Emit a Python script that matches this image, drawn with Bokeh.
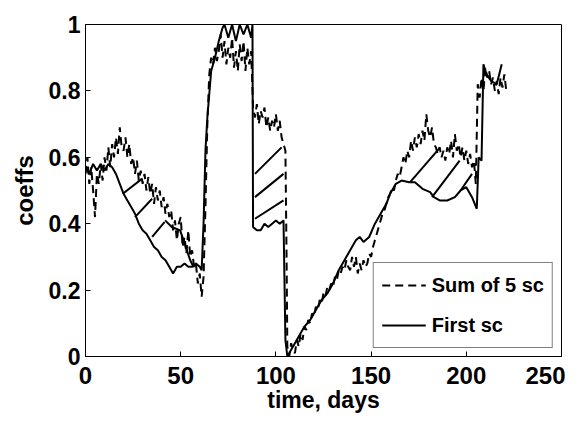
from bokeh.plotting import figure
from bokeh.models import Range1d, Legend, LegendItem, FixedTicker
from bokeh.embed import file_html
from bokeh.resources import INLINE

# ---------------- data ----------------
sum5_x = list(range(0, 105)) + [105, 105.6, 106, 107, 108] + list(range(109, 222))
sum5_y = [
    0.55, 0.60, 0.52, 0.57, 0.50, 0.42, 0.55, 0.52, 0.58, 0.53,
    0.60, 0.56, 0.63, 0.57, 0.64, 0.60, 0.66, 0.61, 0.69, 0.63,
    0.62, 0.66, 0.60, 0.64, 0.58, 0.60, 0.55, 0.59, 0.53, 0.56,
    0.52, 0.55, 0.50, 0.54, 0.49, 0.52, 0.46, 0.51, 0.47, 0.50,
    0.45, 0.48, 0.43, 0.46, 0.42, 0.44, 0.38, 0.41, 0.35, 0.40,
    0.42, 0.33, 0.36, 0.31, 0.38, 0.30, 0.32, 0.27, 0.28, 0.22,
    0.25, 0.18, 0.24, 0.45, 0.70, 0.85, 0.90, 0.88, 0.93, 0.89,
    0.92, 0.97, 0.90, 0.95, 0.88, 0.93, 0.90, 0.96, 0.87, 0.92,
    0.86, 0.94, 0.89, 0.95, 0.86, 0.93, 0.88, 0.92, 0.75, 0.72,
    0.76, 0.70, 0.74, 0.72, 0.75, 0.69, 0.72, 0.68, 0.71, 0.69,
    0.73, 0.68, 0.71, 0.66, 0.64,
    0.62, 0.30, 0.03, 0.00, 0.04,
    0.02, 0.01, 0.05, 0.03, 0.07, 0.05, 0.09, 0.08, 0.11, 0.10,
    0.13, 0.12, 0.15, 0.14, 0.17, 0.16, 0.19, 0.18, 0.21, 0.20,
    0.22, 0.21, 0.24, 0.23, 0.26, 0.25, 0.27, 0.26, 0.29, 0.27,
    0.26, 0.30, 0.27, 0.30, 0.25, 0.28, 0.26, 0.29, 0.27, 0.28,
    0.31, 0.30, 0.33, 0.35, 0.37, 0.39, 0.41, 0.43, 0.44, 0.46,
    0.48, 0.49, 0.51, 0.50, 0.53, 0.55, 0.54, 0.57, 0.60, 0.58,
    0.62, 0.60, 0.65, 0.62, 0.66, 0.63, 0.67, 0.64, 0.68, 0.65,
    0.73, 0.68, 0.66, 0.69, 0.64, 0.63, 0.61, 0.63, 0.60, 0.62,
    0.59, 0.63, 0.61, 0.65, 0.60, 0.67, 0.62, 0.64, 0.60, 0.63,
    0.59, 0.62, 0.58, 0.61, 0.57, 0.59, 0.52, 0.82, 0.78, 0.84,
    0.80, 0.87, 0.84, 0.86, 0.82, 0.84, 0.80, 0.83, 0.79, 0.84,
    0.81, 0.85, 0.80,
]

first_x = [0, 2, 4, 6, 8, 10, 12, 14, 16, 18, 20, 22, 24, 26, 28, 30, 32, 34, 36,
           38, 40, 42, 44, 46, 48, 50, 52, 54, 56, 58, 60, 61, 62, 63, 64, 66, 68,
           70, 72, 73, 75, 77, 79, 81, 83, 85, 87, 87.7, 88, 90, 92, 94, 96, 98,
           100, 102, 104, 105, 106, 108, 110, 112, 115, 118, 121, 124, 127, 130,
           133, 136, 139, 142, 144, 146, 149, 152, 155, 158, 160, 163, 166, 170,
           173, 177, 181, 183, 186, 190, 194, 197, 200, 203, 205.5, 206.5, 208,
           209, 210.6, 213, 216, 218.6]
first_y = [0.57, 0.55, 0.58, 0.56, 0.58, 0.56, 0.58, 0.57, 0.55, 0.52, 0.49, 0.47,
           0.45, 0.43, 0.40, 0.38, 0.37, 0.35, 0.33, 0.32, 0.30, 0.29, 0.27, 0.25,
           0.27, 0.27, 0.28, 0.27, 0.27, 0.28, 0.27, 0.26, 0.40, 0.62, 0.72, 0.86,
           0.90, 0.95, 0.99, 1.00, 0.96, 1.00, 0.95, 1.00, 0.97, 1.00, 0.96, 1.00,
           0.39, 0.38, 0.38, 0.40, 0.39, 0.40, 0.41, 0.40, 0.41, 0.05, 0.00, 0.02,
           0.04, 0.06, 0.09, 0.11, 0.14, 0.17, 0.19, 0.22, 0.26, 0.29, 0.32, 0.35,
           0.36, 0.345, 0.36, 0.40, 0.43, 0.46, 0.49, 0.52, 0.53, 0.525, 0.525,
           0.505, 0.495, 0.48, 0.47, 0.47, 0.48, 0.50, 0.51, 0.48, 0.445, 0.60,
           0.59, 0.88, 0.85, 0.83, 0.82, 0.88]

# extra pieces of the "First sc" trace (cross strokes between the curves)
first_extra_xs = [
    [19.6, 29.6], [26, 35], [35, 41.5],
    [41.8, 45.3, 49.7, 51.5, 53.2, 55, 56.7, 58.5],
    [89, 103], [89, 104], [89, 104],
    [170.5, 186.3], [182, 196.5], [197, 203],
]
first_extra_ys = [
    [0.49, 0.535], [0.42, 0.475], [0.36, 0.405],
    [0.41, 0.39, 0.38, 0.35, 0.32, 0.29, 0.27, 0.28],
    [0.55, 0.63], [0.48, 0.55], [0.415, 0.47],
    [0.525, 0.63], [0.48, 0.59], [0.50, 0.55],
]

x_ticks = [0, 50, 100, 150, 200, 250]
y_ticks = [0, 0.2, 0.4, 0.6, 0.8, 1]
y_tick_labels = ["0", "0.2", "0.4", "0.6", "0.8", "1"]
series_names = ["Sum of 5 sc", "First sc"]
x_title = "time, days"
y_title = "coeffs"

# ---------------- figure ----------------
FONT = "Liberation Sans"

p = figure(width=565, height=420, x_range=Range1d(0, 250), y_range=Range1d(0, 1),
           output_backend="svg", toolbar_location=None,
           min_border_left=85, min_border_right=4, min_border_top=24,
           min_border_bottom=64)
p.grid.visible = False
p.outline_line_color = "black"
p.outline_line_width = 1
p.background_fill_color = "white"
p.border_fill_color = "white"

for ax in (p.xaxis[0], p.yaxis[0]):
    ax.axis_line_color = "black"
    ax.major_tick_in = 5
    ax.major_tick_out = 0
    ax.minor_tick_in = 0
    ax.minor_tick_out = 0
    ax.major_tick_line_color = "black"
    ax.major_label_text_font = FONT
    ax.major_label_text_font_style = "bold"
    ax.major_label_text_color = "black"
    ax.major_label_text_font_size = "23px"
    ax.axis_label_text_font = FONT
    ax.axis_label_text_font_style = "bold"
    ax.axis_label_text_color = "black"
    ax.axis_label_text_font_size = "23px"

p.xaxis.ticker = FixedTicker(ticks=x_ticks)
p.yaxis.ticker = FixedTicker(ticks=y_ticks)
p.yaxis.major_label_overrides = {t: s for t, s in zip(y_ticks, y_tick_labels)}
p.xaxis.major_label_text_font_size = "24px"
p.xaxis.major_label_standoff = 10
p.yaxis.major_label_standoff = 5
p.xaxis.axis_label = x_title
p.xaxis.axis_label_standoff = 0
p.yaxis.axis_label = y_title
p.yaxis.axis_label_text_font_size = "24px"
p.yaxis.axis_label_standoff = 8

r_sum = p.line(sum5_x, sum5_y, line_color="black", line_width=2, line_dash="8 5")
r_first = p.line(first_x, first_y, line_color="black", line_width=2)
p.multi_line(first_extra_xs, first_extra_ys, line_color="black", line_width=2)

legend = Legend(items=[LegendItem(label=series_names[0], renderers=[r_sum]),
                       LegendItem(label=series_names[1], renderers=[r_first])],
                location="bottom_right")
legend.margin = 8
legend.padding = 8
legend.spacing = 12
legend.glyph_width = 44
legend.glyph_height = 28
legend.label_height = 28
legend.label_standoff = 6
legend.label_text_font = FONT
legend.label_text_font_style = "bold"
legend.label_text_font_size = "20px"
legend.label_text_color = "black"
legend.border_line_color = "black"
legend.border_line_width = 1
legend.background_fill_alpha = 1
p.add_layout(legend)

open("out.html", "w").write(file_html(p, INLINE))
